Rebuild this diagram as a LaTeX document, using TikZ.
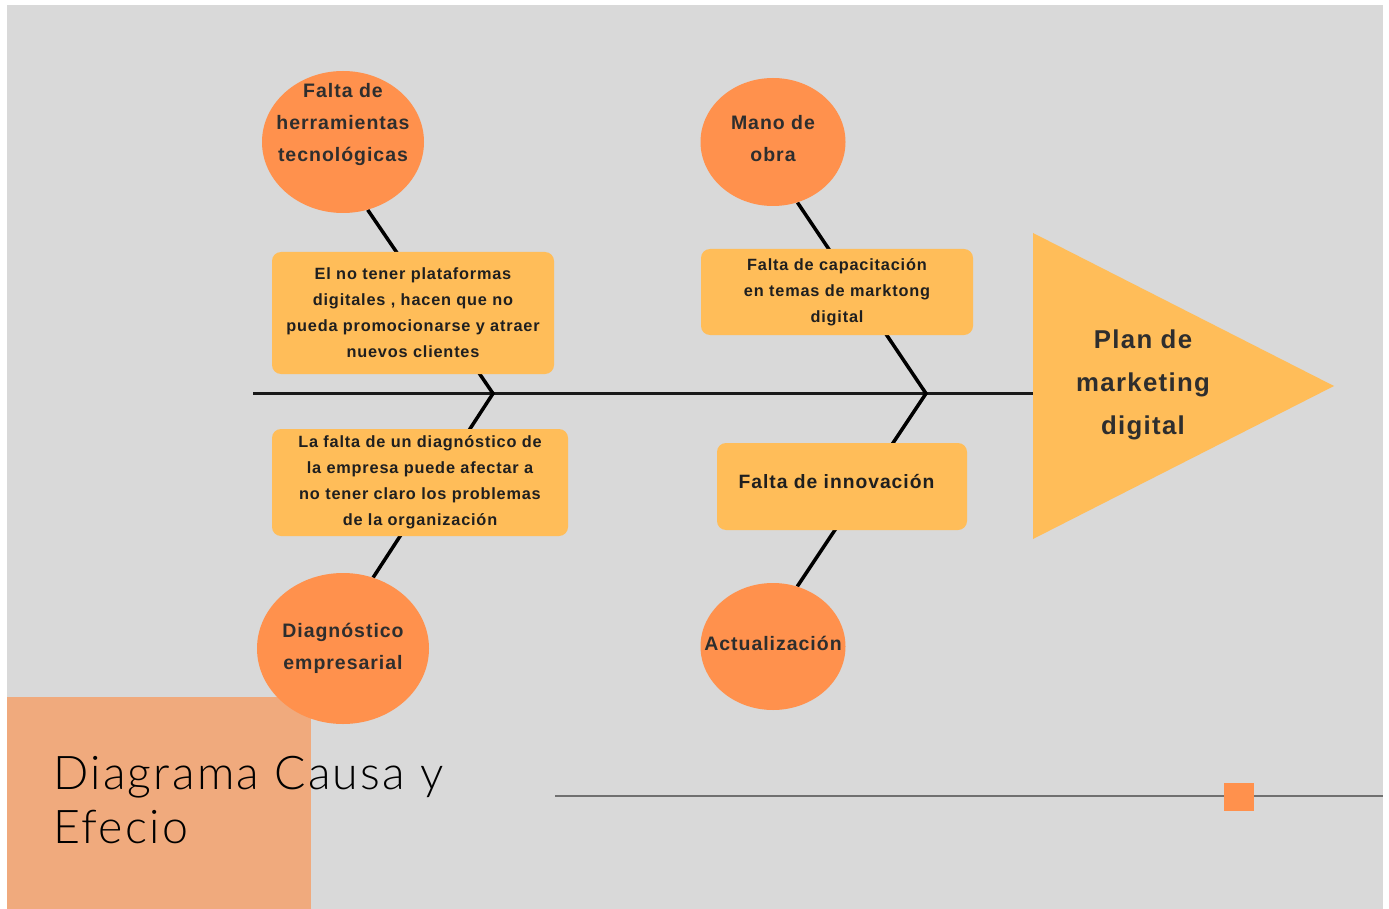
\documentclass[tikz,border=0pt]{standalone}
\usepackage{fontspec}
\setmainfont{Liberation Sans}[LetterSpace=5]
\newfontfamily\titlefont{Lato Light}[LetterSpace=5]
\usetikzlibrary{shapes.geometric}
\pgfdeclarelayer{back}
\pgfdeclarelayer{lines}
\pgfsetlayers{back,lines,main}
\definecolor{bgc}{HTML}{D9D9D9}
\definecolor{circ}{HTML}{FF914D}
\definecolor{boxc}{HTML}{FFBD59}
\definecolor{pale}{HTML}{F0AA7D}
\definecolor{txt}{HTML}{2E2E2E}
\definecolor{rulec}{HTML}{707070}
\begin{document}
\begin{tikzpicture}[x=1pt,y=-1pt,
  causecirc/.style={ellipse, fill=circ, inner sep=0pt},
  circtext/.style={align=center, text=txt, font=\bfseries\fontsize{19.5}{32}\selectfont, inner sep=0pt},
  cbox/.style={rectangle, rounded corners=9pt, fill=boxc, align=center, text=black!88, font=\bfseries\fontsize{16.3}{26}\selectfont, inner sep=0pt},
  bone/.style={line width=3.5pt, black, line join=miter},
  spine/.style={line width=2.6pt, black!90},
  titletext/.style={anchor=base west, inner sep=0pt, font=\titlefont\fontsize{46.5}{54}\selectfont, text=black}]
\useasboundingbox (0,0) rectangle (1389,909);
\begin{pgfonlayer}{back}
\fill[white] (0,0) rectangle (1389,909);
\fill[bgc] (7,5) rectangle (1383,909);
\fill[pale] (7,697) rectangle (311,909);
\fill[boxc] (1033,233) -- (1334,386) -- (1033,539) -- cycle;
\end{pgfonlayer}
% causes (circles)
\node[causecirc, minimum width=162pt, minimum height=142pt] (c1) at (343,142) {};
\node[circtext] (c1t) at (343,125) {Falta de\\herramientas\\tecnológicas};
\node[causecirc, minimum width=172pt, minimum height=151pt] (c2) at (343,648.5) {};
\node[circtext] (c2t) at (343,648) {Diagnóstico\\empresarial};
\node[causecirc, minimum width=145pt, minimum height=128pt] (c3) at (773,142) {};
\node[circtext] (c3t) at (773,139) {Mano de\\obra};
\node[causecirc, minimum width=145pt, minimum height=127pt] (c4) at (773,646.5) {};
\node[circtext] (c4t) at (773,643) {Actualización};
% boxes
\node[cbox, minimum width=282pt, minimum height=122pt] (b1) at (413,313) {El no tener plataformas\\digitales , hacen que no\\pueda promocionarse y atraer\\nuevos clientes};
\node[cbox, minimum width=296pt, minimum height=107pt] (b2) at (420,482.5) {La falta de un diagnóstico de\\la empresa puede afectar a\\no tener claro los problemas\\de la organización};
\node[cbox, minimum width=272pt, minimum height=86pt] (b3) at (837,292) {Falta de capacitación\\en temas de marktong\\digital};
\node[cbox, minimum width=250pt, minimum height=87pt, font=\bfseries\fontsize{19.3}{26}\selectfont] (b4) at (842,486.5) {Falta de innovación\hspace{11pt}\rule[-11pt]{0pt}{11pt}};
% effect
\node[align=center, text=txt, inner sep=0pt, font=\bfseries\fontsize{25.8}{43}\selectfont] (tri) at (1143,385) {Plan de\\marketing\\digital};
% junctions
\coordinate (jL) at (493,393.5);
\coordinate (jR) at (926,393.5);
\coordinate (sL) at (253,393.5);
\coordinate (tb) at (1033,393.5);
\coordinate (r1) at (555,796);
\coordinate (r2) at (1383,796);
\begin{pgfonlayer}{lines}
\draw[spine] (sL) -- (tb);
\draw[bone] (c1.-70) -- (jL) -- (c2.67);
\draw[bone] (c3.-68) -- (jR) -- (c4.68);
\draw[rulec, line width=2pt] (r1) -- (r2);
\end{pgfonlayer}
\node[fill=circ, minimum width=30pt, minimum height=28pt, inner sep=0pt] (sq) at (1239,797) {};
% title
\node[titletext] (title1) at (53,789) {Diagrama Causa y};
\node[titletext] (title2) at (53,843) {Efecio};
\end{tikzpicture}
\end{document}
